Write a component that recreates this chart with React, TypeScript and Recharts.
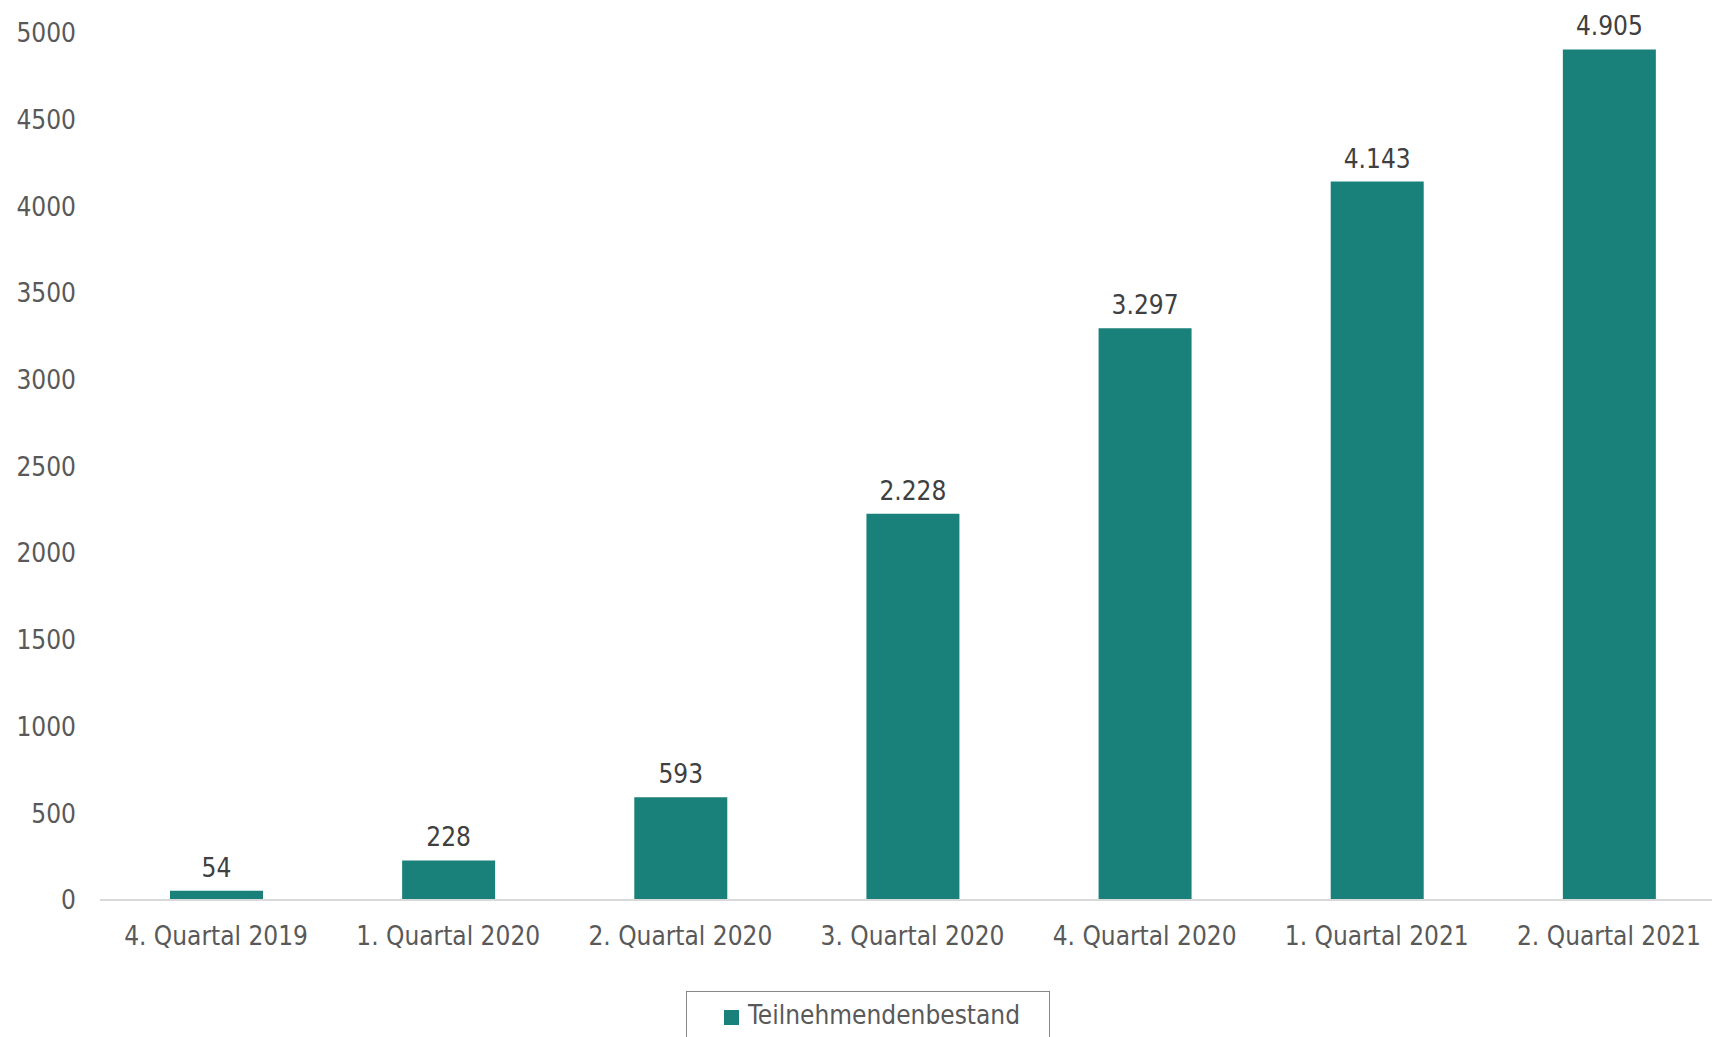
import React from "react";
import { BarChart, Bar, XAxis, YAxis, LabelList, Legend } from "recharts";

const categories = [
  "4. Quartal 2019",
  "1. Quartal 2020",
  "2. Quartal 2020",
  "3. Quartal 2020",
  "4. Quartal 2020",
  "1. Quartal 2021",
  "2. Quartal 2021",
];
const teilnehmendenbestand = [54, 228, 593, 2228, 3297, 4143, 4905];
const yTicks = [0, 500, 1000, 1500, 2000, 2500, 3000, 3500, 4000, 4500, 5000];
const seriesName = "Teilnehmendenbestand";

const data = categories.map((c, i) => ({ name: c, value: teilnehmendenbestand[i] }));

const FONT = "'DejaVu Sans Condensed', 'DejaVu Sans', sans-serif";
const TEAL = "#1a817a";

const fmt = (v: any) => Number(v).toLocaleString("de-DE");

const LegendBox = () => (
  <div
    style={{
      boxSizing: "border-box",
      width: 364,
      height: 60,
      border: "1.5px solid #878787",
      background: "#fff",
      display: "flex",
      alignItems: "flex-start",
      justifyContent: "center",
      paddingTop: 8,
      paddingLeft: 8,
      fontFamily: FONT,
      fontStretch: "condensed",
      fontSize: 26,
      color: "#595959",
    }}
  >
    <span style={{ display: "inline-block", width: 15, height: 15, background: TEAL, marginRight: 9, marginTop: 10 }} />
    <span>{seriesName}</span>
  </div>
);

export default function App() {
  return (
    <div style={{ position: "fixed", left: 0, top: 0, width: 1712, height: 1037, overflow: "hidden", background: "#fff" }}>
      <BarChart
        width={1725}
        height={1037}
        data={data}
        margin={{ top: 33, right: 0, left: 0, bottom: 0 }}
        barSize={93}
      >
        <XAxis
          dataKey="name"
          height={77}
          tickLine={false}
          axisLine={{ stroke: "#d9d9d9", strokeWidth: 2 }}
          tickMargin={21}
          tick={{ fill: "#595959", fontSize: 26, fontFamily: FONT, fontStretch: "condensed" } as any}
          interval={0}
        />
        <YAxis
          width={100}
          domain={[0, 5000]}
          ticks={yTicks}
          axisLine={false}
          tickLine={false}
          tickMargin={18}
          tick={{ fill: "#595959", fontSize: 26, fontFamily: FONT, fontStretch: "condensed" } as any}
        />
        <Legend
          content={() => <LegendBox />}
          wrapperStyle={{ left: 686, top: 991, width: 364, bottom: "auto" }}
        />
        <Bar dataKey="value" name={seriesName} fill={TEAL} isAnimationActive={false}>
          <LabelList
            dataKey="value"
            position="top"
            offset={14}
            formatter={fmt}
            style={{ fill: "#404040", fontSize: 26, fontFamily: FONT, fontStretch: "condensed" } as any}
          />
        </Bar>
      </BarChart>
    </div>
  );
}
